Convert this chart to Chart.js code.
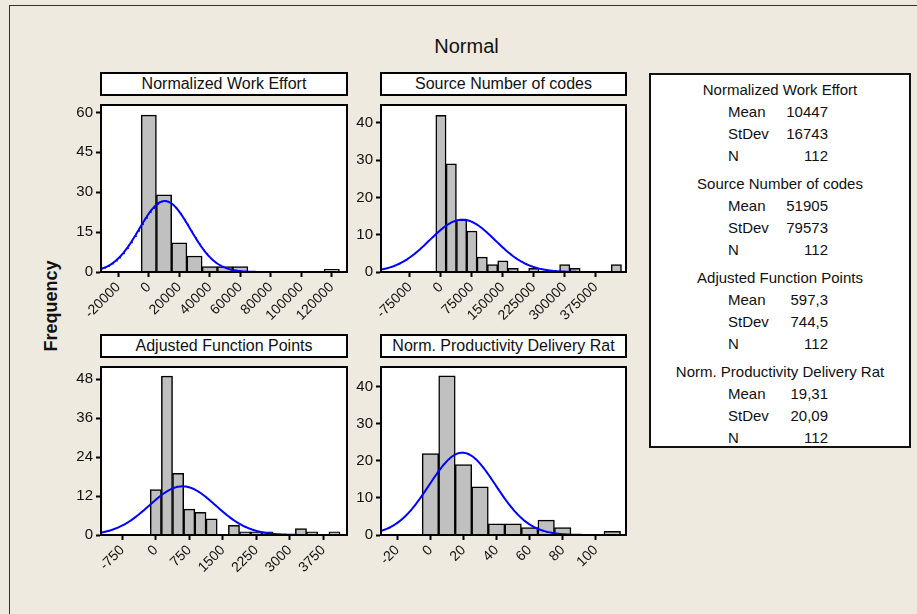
<!DOCTYPE html>
<html>
<head>
<meta charset="utf-8">
<script src="https://cdn.jsdelivr.net/npm/chart.js@4.4.1/dist/chart.umd.min.js"></script>
<style>
  body { margin: 0; background: #eeeae0; font-family: 'Liberation Sans', Arial, sans-serif; color: #111; }
  #page { position: relative; width: 917px; height: 614px; overflow: hidden; }
  #frame { position: absolute; left: 9px; top: 5px; width: 1000px; height: 700px; border: 1px solid #333; }
  #title { position: absolute; left: 0; width: 933px; top: 35px; text-align: center; font-size: 20px; }
  #ylabel { position: absolute; left: 51px; top: 306px; transform: translate(-50%, -50%) rotate(-90deg); font-weight: bold; font-size: 18px; white-space: nowrap; }
  .header { position: absolute; box-sizing: border-box; height: 24px; border: 2px solid #000; background: #fff; text-align: center; font-size: 16px; line-height: 20px; white-space: nowrap; }
  .wrap { position: absolute; }
  #stats { position: absolute; left: 649px; top: 73px; width: 262px; height: 375px; box-sizing: border-box; border: 2px solid #111; background: #fff; padding-top: 4px; font-size: 15px; }
  .group { margin-bottom: 6px; }
  .line { position: relative; height: 22px; line-height: 22px; }
  .gtitle { text-align: center; }
  .lab { position: absolute; left: 77px; }
  .val { position: absolute; right: 81px; }
</style>
</head>
<body>
<div id="page">
  <div id="frame"></div>
  <div id="title">Normal</div>
  <div id="ylabel">Frequency</div>
  <div id="stats"></div>
</div>
<script>
// histogram data (bin midpoints and counts)
const panelTitles = ['Normalized Work Effort', 'Source Number of codes', 'Adjusted Function Points', 'Norm. Productivity Delivery Rat'];

const effortBins = [0, 10000, 20000, 30000, 40000, 50000, 60000, 70000, 80000, 90000, 100000, 110000, 120000];
const effortCounts = [59, 29, 11, 6, 2, 2, 2, 0, 0, 0, 0, 0, 1];

const codesBins = [0, 25000, 50000, 75000, 100000, 125000, 150000, 175000, 200000, 225000, 250000, 275000, 300000, 325000, 350000, 375000, 400000, 425000];
const codesCounts = [42, 29, 14, 11, 4, 2, 3, 1, 0, 1, 0, 0, 2, 1, 0, 0, 0, 2];

const afpBins = [0, 250, 500, 750, 1000, 1250, 1500, 1750, 2000, 2250, 2500, 2750, 3000, 3250, 3500, 3750, 4000];
const afpCounts = [14, 49, 19, 8, 7, 5, 0, 3, 1, 1, 1, 0, 0, 2, 1, 0, 1];

const rateBins = [0, 10, 20, 30, 40, 50, 60, 70, 80, 90, 100, 110];
const rateCounts = [22, 43, 19, 13, 3, 3, 2, 4, 2, 0, 0, 1];

// fitted normal parameters shown in the side box
const means = [10447, 51905, 597.3, 19.31];
const stdevs = [16743, 79573, 744.5, 20.09];
const counts = [112, 112, 112, 112];
const meanLabels = ['10447', '51905', '597,3', '19,31'];
const stdevLabels = ['16743', '79573', '744,5', '20,09'];

// axis ticks and ranges
const effortTicks = [-20000, 0, 20000, 40000, 60000, 80000, 100000, 120000];
const codesTicks = [-75000, 0, 75000, 150000, 225000, 300000, 375000];
const afpTicks = [-750, 0, 750, 1500, 2250, 3000, 3750];
const rateTicks = [-20, 0, 20, 40, 60, 80, 100];
const xRanges = [[-31350, 130010], [-145270, 448420], [-1227, 4281], [-29.9, 118.3]];
const yTicks = [[0, 15, 30, 45, 60], [0, 10, 20, 30, 40], [0, 12, 24, 36, 48], [0, 10, 20, 30, 40]];
const yMax = [62.8, 44.8, 51.8, 45.4];

const binSets = [effortBins, codesBins, afpBins, rateBins];
const countSets = [effortCounts, codesCounts, afpCounts, rateCounts];
const xTickSets = [effortTicks, codesTicks, afpTicks, rateTicks];

// plot area rectangles on the page [left, top, right, bottom]
const plotRects = [[101, 97, 347, 272], [381, 97, 626, 272], [101, 359, 347, 535], [381, 359, 626, 535]];

Chart.defaults.font.family = "'Liberation Sans', Arial, sans-serif";
Chart.defaults.color = '#111';

const plotFrame = {
    id: 'plotFrame',
    beforeDraw(chart) {
        const a = chart.chartArea;
        const ctx = chart.ctx;
        ctx.save();
        ctx.fillStyle = '#fff';
        ctx.fillRect(a.left, a.top, a.right - a.left, a.bottom - a.top);
        ctx.restore();
    },
    afterDraw(chart) {
        const a = chart.chartArea;
        const ctx = chart.ctx;
        ctx.save();
        ctx.strokeStyle = '#000';
        ctx.lineWidth = 2;
        ctx.strokeRect(a.left, a.top, a.right - a.left, a.bottom - a.top);
        ctx.restore();
    }
};

// fitted normal density scaled to the histogram counts
function normalCurve(i) {
    const bins = binSets[i];
    const width = bins[1] - bins[0];
    const [lo] = xRanges[i];
    const hi = means[i] + 3.7 * stdevs[i];
    const pts = [];
    for (let k = 0; k <= 200; k++) {
        const x = lo + (hi - lo) * k / 200;
        const z = (x - means[i]) / stdevs[i];
        const y = counts[i] * width * Math.exp(-0.5 * z * z) / (stdevs[i] * Math.sqrt(2 * Math.PI));
        pts.push({ x, y });
    }
    return pts;
}

const page = document.getElementById('page');
const padL = 60, padT = 4, padR = 8, padB = 60;

panelTitles.forEach((title, i) => {
    const [L, T, R, B] = plotRects[i];

    const header = document.createElement('div');
    header.className = 'header';
    header.style.left = (L - 1) + 'px';
    header.style.top = (T - 25) + 'px';
    header.style.width = (R - L + 2) + 'px';
    header.textContent = title;
    page.appendChild(header);

    const wrap = document.createElement('div');
    wrap.className = 'wrap';
    wrap.style.left = (L - padL) + 'px';
    wrap.style.top = (T - padT) + 'px';
    const canvas = document.createElement('canvas');
    canvas.width = R - L + padL + padR;
    canvas.height = B - T + padT + padB;
    wrap.appendChild(canvas);
    page.insertBefore(wrap, header);

    new Chart(canvas, {
        type: 'bar',
        data: {
            datasets: [{
                type: 'line',
                data: normalCurve(i),
                borderColor: '#0000ff',
                borderWidth: 2,
                pointRadius: 0,
                tension: 0,
                order: 0
            }, {
                type: 'bar',
                data: binSets[i].map((b, k) => ({ x: b, y: countSets[i][k] })),
                backgroundColor: '#c0c0c0',
                borderColor: '#000',
                borderWidth: 1.5,
                barPercentage: 1,
                categoryPercentage: 1,
                order: 1
            }]
        },
        options: {
            responsive: false,
            animation: false,
            layout: { padding: { left: 0, top: padT, right: padR, bottom: 0 } },
            plugins: { legend: { display: false }, tooltip: { enabled: false } },
            scales: {
                x: {
                    type: 'linear',
                    min: xRanges[i][0],
                    max: xRanges[i][1],
                    offset: false,
                    afterBuildTicks: s => { s.ticks = xTickSets[i].map(v => ({ value: v })); },
                    afterFit: s => { s.height = padB; },
                    ticks: { minRotation: 45, maxRotation: 45, autoSkip: false, padding: 2, font: { size: 14 }, callback: v => String(v) },
                    grid: { display: true, offset: false, drawOnChartArea: false, drawTicks: true, tickLength: 5, tickWidth: 2, tickColor: '#000' },
                    border: { display: true, color: '#000', width: 2 }
                },
                y: {
                    min: 0,
                    max: yMax[i],
                    afterBuildTicks: s => { s.ticks = yTicks[i].map(v => ({ value: v })); },
                    afterFit: s => { s.width = padL; },
                    ticks: { padding: 3, font: { size: 15 }, callback: v => String(v) },
                    grid: { display: true, drawOnChartArea: false, drawTicks: true, tickLength: 5, tickWidth: 2, tickColor: '#000' },
                    border: { display: true, color: '#000', width: 2 }
                }
            }
        },
        plugins: [plotFrame]
    });
});

// side box with the fitted parameters
const stats = document.getElementById('stats');
panelTitles.forEach((title, i) => {
    const g = document.createElement('div');
    g.className = 'group';
    g.innerHTML = `
        <div class="line gtitle">${title}</div>
        <div class="line"><span class="lab">Mean</span><span class="val">${meanLabels[i]}</span></div>
        <div class="line"><span class="lab">StDev</span><span class="val">${stdevLabels[i]}</span></div>
        <div class="line"><span class="lab">N</span><span class="val">${counts[i]}</span></div>
    `;
    stats.appendChild(g);
});
</script>
</body>
</html>
